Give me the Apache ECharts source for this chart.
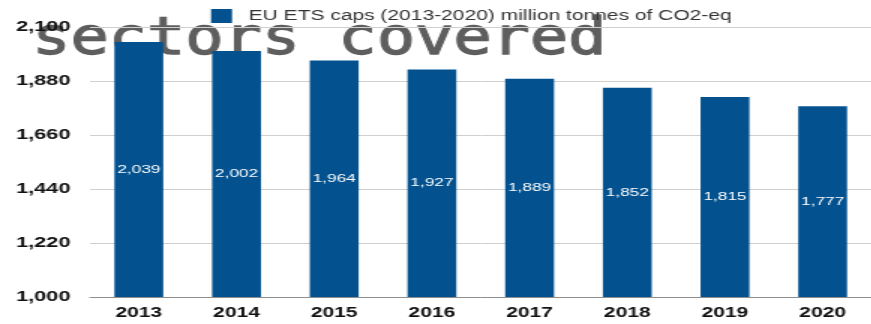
<!DOCTYPE html>
<html>
<head>
<meta charset="utf-8">
<script src="https://cdn.jsdelivr.net/npm/echarts@6/dist/echarts.min.js"></script>
<style>
  html, body { margin: 0; padding: 0; background: #ffffff; overflow: hidden; }
  #wrap { width: 871px; height: 324px; overflow: hidden; }
  /* the chart is drawn on a narrower canvas and widened 1.5x */
  #chart { width: 581px; height: 324px; transform: scaleX(1.5); transform-origin: 0 0; }
</style>
</head>
<body>
<div id="wrap"><div id="chart"></div></div>
<script>
// EU ETS caps per year, million tonnes of CO2-eq
const years = ['2013', '2014', '2015', '2016', '2017', '2018', '2019', '2020'];
const caps = [2039, 2002, 1964, 1927, 1889, 1852, 1815, 1777];
const seriesName = 'EU ETS caps (2013-2020) million tonnes of CO2-eq';
const overlayText = 'sectors covered';
const yMin = 1000;
const yMax = 2100;
const yStep = 220;

const fmt = v => Number(v).toLocaleString('en-US');
const sans = 'Helvetica, Arial, "Liberation Sans", sans-serif';

const chart = echarts.init(document.getElementById('chart'));
chart.setOption({
  animation: false,
  backgroundColor: '#ffffff',
  legend: {
    data: [seriesName],
    left: 135.7,
    top: 4,
    z: 10,
    itemWidth: 14,
    itemHeight: 14,
    icon: 'rect',
    textStyle: { fontFamily: sans, fontSize: 14, color: '#333333', padding: [0, 0, 0, 6] }
  },
  grid: { left: 60, top: 27, width: 527.3, height: 270, containLabel: false },
  xAxis: {
    type: 'category',
    data: years,
    z: 10,
    axisTick: { show: false },
    axisLine: { show: true, lineStyle: { color: '#8f8f8f', width: 1 } },
    axisLabel: { fontFamily: sans, fontSize: 14, fontWeight: 'bold', color: '#111111', margin: 9 }
  },
  yAxis: {
    type: 'value',
    min: yMin,
    max: yMax,
    interval: yStep,
    z: 10,
    axisLine: { show: false },
    axisTick: { show: false },
    splitLine: { lineStyle: { color: '#cfcfcf', width: 1 } },
    axisLabel: { fontFamily: sans, fontSize: 14.5, fontWeight: 'bold', color: '#111111', margin: 13, formatter: fmt }
  },
  series: [{
    name: seriesName,
    type: 'bar',
    z: 10,
    data: caps,
    barWidth: '50%',
    itemStyle: { color: '#03528f' },
    label: {
      show: true,
      position: 'inside',
      color: '#ffffff',
      fontFamily: sans,
      fontSize: 11.5,
      formatter: p => fmt(p.value)
    }
  }],
  graphic: [{
    type: 'text',
    z: 1,
    x: 21.5,
    y: 40,
    scaleX: 0.815,
    style: {
      text: overlayText,
      fontFamily: 'DejaVu Sans Mono',
      fontSize: 52,
      fill: '#5e5e5e',
      stroke: '#5e5e5e',
      lineWidth: 1.3,
      align: 'left',
      verticalAlign: 'middle'
    }
  }]
});
</script>
</body>
</html>
